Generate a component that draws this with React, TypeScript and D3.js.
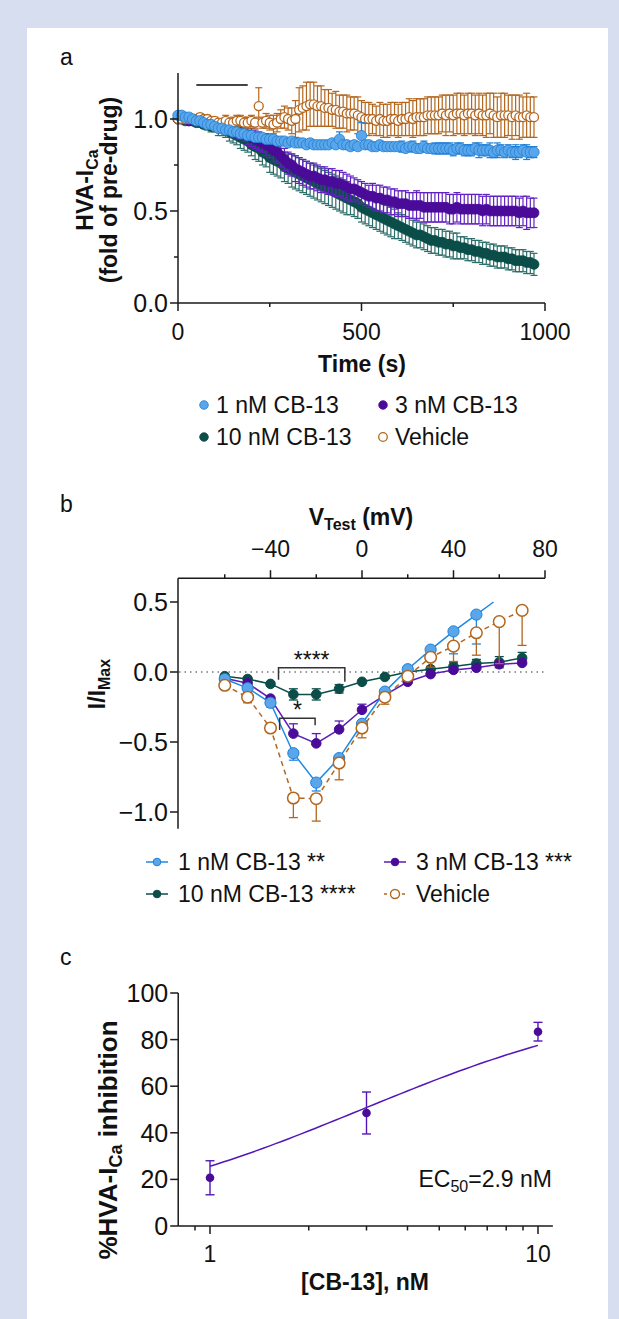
import React from "react";
import * as d3 from "d3";

const FONT = "'Liberation Sans', Arial, Helvetica, sans-serif";
const FS = 23;
const FS_Y = 25;
const FRAME = "#d6def0";
const AXIS = "#1a1a1a";
const BLUE = "#5aa6ea";
const BLUE_DK = "#1f7fd6";
const PURPLE = "#4a0c98";
const PURPLE_ERR = "#6222c2";
const TEAL = "#0b4d49";
const TEAL_ERR = "#2a6d69";
const ORANGE = "#b3661e";

// ---------- Panel a: HVA-ICa time course (sampled every 10 s) ----------
const sampleIntervalS = 10;
const drugBarA = [50, 190];

const blueA = [1.02,1.02,1.01,1.01,1.00,0.99,0.99,0.98,0.97,0.97,
 0.96,0.95,0.95,0.94,0.94,0.93,0.93,0.92,0.92,0.91,
 0.91,0.90,0.90,0.90,0.89,0.89,0.89,0.88,0.88,0.88,
 0.87,0.88,0.87,0.87,0.87,0.86,0.87,0.86,0.86,0.86,
 0.86,0.86,0.87,0.86,0.89,0.86,0.86,0.85,0.86,0.85,
 0.91,0.86,0.86,0.85,0.85,0.86,0.85,0.85,0.85,0.85,
 0.85,0.85,0.84,0.85,0.85,0.84,0.84,0.85,0.84,0.84,
 0.84,0.84,0.84,0.84,0.84,0.83,0.84,0.84,0.83,0.83,
 0.83,0.84,0.83,0.83,0.83,0.83,0.82,0.83,0.83,0.82,
 0.83,0.82,0.82,0.82,0.83,0.82,0.82,0.82];
const blueErrA = [0.01,0.01,0.01,0.01,0.01,0.01,0.01,0.01,0.01,0.01,
 0.01,0.01,0.01,0.01,0.01,0.02,0.02,0.02,0.02,0.02,
 0.02,0.02,0.02,0.02,0.02,0.02,0.02,0.02,0.02,0.02,
 0.02,0.02,0.02,0.02,0.02,0.02,0.02,0.02,0.02,0.02,
 0.02,0.02,0.02,0.02,0.04,0.02,0.02,0.02,0.02,0.02,
 0.07,0.02,0.02,0.02,0.02,0.02,0.02,0.02,0.02,0.02,
 0.02,0.03,0.02,0.02,0.03,0.02,0.02,0.03,0.02,0.02,
 0.03,0.03,0.03,0.03,0.03,0.03,0.03,0.03,0.03,0.03,
 0.03,0.03,0.04,0.03,0.03,0.04,0.03,0.04,0.03,0.03,
 0.03,0.03,0.04,0.03,0.03,0.04,0.03,0.03];

const purpleA = [1.00,1.00,1.00,0.99,0.99,0.99,0.99,0.98,0.98,0.98,
 0.97,0.97,0.96,0.96,0.95,0.94,0.93,0.93,0.92,0.91,
 0.90,0.89,0.88,0.87,0.86,0.85,0.83,0.82,0.80,0.78,
 0.76,0.75,0.73,0.72,0.71,0.70,0.69,0.69,0.68,0.67,
 0.67,0.66,0.66,0.65,0.65,0.64,0.63,0.62,0.62,0.61,
 0.60,0.59,0.58,0.58,0.57,0.57,0.56,0.56,0.55,0.55,
 0.54,0.54,0.54,0.53,0.53,0.53,0.53,0.52,0.52,0.52,
 0.52,0.52,0.52,0.52,0.51,0.51,0.52,0.51,0.51,0.51,
 0.51,0.51,0.51,0.50,0.51,0.50,0.50,0.50,0.50,0.50,
 0.50,0.50,0.50,0.49,0.50,0.49,0.49,0.49];
const purpleErrA = [0.00,0.00,0.01,0.01,0.01,0.01,0.01,0.02,0.02,0.02,
 0.02,0.03,0.03,0.03,0.03,0.04,0.04,0.04,0.04,0.05,
 0.05,0.05,0.05,0.05,0.06,0.06,0.06,0.06,0.06,0.06,
 0.06,0.06,0.07,0.07,0.07,0.07,0.07,0.07,0.07,0.07,
 0.07,0.07,0.07,0.07,0.07,0.07,0.07,0.07,0.06,0.06,
 0.06,0.06,0.06,0.07,0.07,0.07,0.07,0.07,0.07,0.07,
 0.07,0.07,0.07,0.07,0.07,0.08,0.07,0.08,0.08,0.08,
 0.08,0.08,0.08,0.08,0.08,0.08,0.08,0.08,0.08,0.08,
 0.08,0.08,0.08,0.08,0.08,0.08,0.08,0.08,0.08,0.08,
 0.08,0.08,0.08,0.08,0.08,0.09,0.08,0.08];

const tealA = [1.00,1.00,0.99,0.99,0.99,0.98,0.98,0.97,0.97,0.96,
 0.96,0.95,0.95,0.94,0.93,0.92,0.91,0.90,0.89,0.88,
 0.86,0.85,0.84,0.82,0.81,0.79,0.78,0.77,0.76,0.74,
 0.73,0.72,0.71,0.70,0.69,0.68,0.67,0.66,0.65,0.64,
 0.63,0.62,0.61,0.60,0.59,0.58,0.57,0.56,0.55,0.54,
 0.52,0.51,0.50,0.49,0.48,0.47,0.46,0.45,0.44,0.43,
 0.42,0.41,0.40,0.39,0.38,0.37,0.37,0.36,0.35,0.34,
 0.34,0.33,0.33,0.32,0.32,0.31,0.31,0.30,0.30,0.29,
 0.29,0.28,0.28,0.27,0.27,0.26,0.26,0.25,0.25,0.25,
 0.24,0.24,0.23,0.23,0.23,0.22,0.22,0.21];
const tealErrA = [0.00,0.01,0.01,0.01,0.01,0.02,0.02,0.02,0.03,0.03,
 0.03,0.04,0.04,0.04,0.05,0.05,0.05,0.06,0.06,0.06,
 0.06,0.07,0.07,0.07,0.07,0.08,0.08,0.08,0.08,0.08,
 0.08,0.09,0.09,0.09,0.09,0.09,0.09,0.09,0.09,0.09,
 0.09,0.09,0.09,0.09,0.09,0.09,0.09,0.08,0.08,0.08,
 0.08,0.08,0.08,0.08,0.08,0.08,0.08,0.08,0.08,0.08,
 0.07,0.07,0.07,0.07,0.07,0.07,0.07,0.07,0.07,0.07,
 0.07,0.07,0.07,0.07,0.07,0.07,0.07,0.06,0.06,0.06,
 0.06,0.06,0.06,0.06,0.06,0.06,0.06,0.06,0.06,0.06,
 0.06,0.06,0.06,0.06,0.06,0.06,0.06,0.06];

const vehA = [1.00,1.00,1.00,1.00,1.00,1.00,1.01,1.00,1.00,0.99,
 0.99,0.98,0.98,0.99,0.98,0.98,0.99,0.99,0.98,0.98,
 0.99,0.98,1.07,0.98,0.99,0.98,0.97,0.98,1.00,1.01,
 1.00,0.99,1.00,1.05,1.06,1.07,1.08,1.08,1.07,1.07,
 1.06,1.06,1.05,1.05,1.04,1.04,1.03,1.03,1.03,1.02,
 1.01,1.00,1.00,1.00,0.99,1.00,0.99,0.99,1.00,1.00,
 0.99,1.00,1.00,1.01,1.00,1.01,1.01,1.01,1.02,1.02,
 1.02,1.02,1.03,1.02,1.03,1.02,1.03,1.03,1.02,1.03,
 1.03,1.02,1.03,1.02,1.02,1.03,1.02,1.01,1.02,1.02,
 1.02,1.01,1.02,1.01,1.01,1.02,1.01,1.01];
const vehErrA = [0.01,0.01,0.01,0.01,0.01,0.01,0.02,0.02,0.02,0.02,
 0.02,0.02,0.02,0.03,0.02,0.03,0.03,0.03,0.03,0.03,
 0.03,0.03,0.10,0.03,0.04,0.04,0.05,0.05,0.05,0.06,
 0.06,0.07,0.10,0.12,0.12,0.13,0.12,0.12,0.11,0.11,
 0.10,0.10,0.09,0.10,0.09,0.09,0.10,0.09,0.09,0.10,
 0.09,0.09,0.09,0.08,0.08,0.09,0.09,0.09,0.09,0.09,
 0.09,0.09,0.09,0.10,0.10,0.10,0.10,0.10,0.10,0.10,
 0.10,0.10,0.10,0.11,0.10,0.11,0.11,0.11,0.11,0.11,
 0.11,0.11,0.11,0.11,0.12,0.11,0.12,0.11,0.12,0.12,
 0.11,0.12,0.11,0.12,0.11,0.12,0.11,0.11];

const yTicksA = [0, 0.5, 1.0];
const yMinorA = [0.25, 0.75];
const xTicksA = [0, 500, 1000];
const xMinorA = [250, 750];

// ---------- Panel b: I-V relation ----------
const vTestB = [-60, -50, -40, -30, -20, -10, 0, 10, 20, 30, 40, 50, 60, 70];
const blueB = [-0.05, -0.115, -0.22, -0.58, -0.79, -0.615, -0.37, -0.14, 0.02, 0.16, 0.29, 0.41];
const blueErrB = [0.02, 0.03, 0.03, 0.05, 0.06, 0.03, 0.03, 0.02, 0.02, 0.02, 0.16, 0.21];
const blueLineEndB = [57.5, 0.5];
const purpleB = [-0.045, -0.08, -0.19, -0.44, -0.51, -0.41, -0.27, -0.165, -0.07, -0.015, 0.015, 0.03, 0.055, 0.065];
const purpleErrB = [0.01, 0.01, 0.01, 0.07, 0.07, 0.06, 0.04, 0.02, 0.02, 0.01, 0.01, 0.01, 0.02, 0.02];
const tealB = [-0.03, -0.05, -0.085, -0.16, -0.16, -0.12, -0.07, -0.035, 0.0, 0.02, 0.04, 0.06, 0.07, 0.10];
const tealErrB = [0.01, 0.01, 0.01, 0.04, 0.04, 0.03, 0.01, 0.01, 0.02, 0.02, 0.03, 0.03, 0.04, 0.04];
const vehB = [-0.095, -0.18, -0.40, -0.90, -0.905, -0.65, -0.40, -0.18, -0.03, 0.105, 0.185, 0.28, 0.36, 0.44];
const vehErrB = [0.03, 0.04, 0.03, 0.14, 0.16, 0.12, 0.07, 0.05, 0.03, 0.07, 0.11, 0.16, 0.30, 0.25];
const xTicksB = [-40, 0, 40, 80];
const xMinorB = [-60, -20, 20, 60];
const yTicksB = [0.5, 0, -0.5, -1.0];
// significance brackets: [vStart, vEnd, iTop, iLegLeft, iLegRight, label]
const bracketsB: [number, number, number, number, number, string][] = [
  [-36.5, -7.5, 0.03, -0.055, -0.07, "****"],
  [-36, -20.5, -0.33, -0.415, -0.38, "*"],
];

// ---------- Panel c: concentration-response ----------
const concC = [1, 3, 10];
const inhibC = [20.7, 48.5, 83.4];
const semC = [7.3, 9.0, 4.0];
const ec50C = 2.9;
const hillC = 1;
const yTicksC = [0, 20, 40, 60, 80, 100];
const xTicksC = [1, 10];
const xMinorC = [0.9, 2, 3, 4, 5, 6, 7, 8, 9];

type Ser = { name: string; vals: number[]; errs: number[]; fill: string; stroke: string; err: string; r: number };

export default function App() {
  const W = 619, H = 1319;
  const fmt1 = d3.format(".1f");
  const fmtD = d3.format("d");

  const xA = d3.scaleLinear().domain([0, 1000]).range([178, 545]);
  const yA = d3.scaleLinear().domain([0, 1.25]).range([303, 73]);
  const tA = blueA.map((_, i) => i * sampleIntervalS);
  const seriesA: Ser[] = [
    { name: "10 nM CB-13", vals: tealA, errs: tealErrA, fill: TEAL, stroke: TEAL, err: TEAL_ERR, r: 5 },
    { name: "3 nM CB-13", vals: purpleA, errs: purpleErrA, fill: PURPLE, stroke: PURPLE, err: PURPLE_ERR, r: 5 },
    { name: "Vehicle", vals: vehA, errs: vehErrA, fill: "#fff", stroke: ORANGE, err: ORANGE, r: 4.5 },
    { name: "1 nM CB-13", vals: blueA, errs: blueErrA, fill: BLUE, stroke: BLUE_DK, err: BLUE_DK, r: 5.2 },
  ];

  const xB = d3.scaleLinear().domain([-80, 80]).range([179, 545]);
  const yB = d3.scaleLinear().domain([-1, 0.5]).range([812, 602]);
  const yBTop = 0.67, yBBot = -1.12;
  const lineB = d3.line<[number, number]>().x((d) => xB(d[0])).y((d) => yB(d[1]));
  const seriesB = [
    { name: "10 nM CB-13 ****", vals: tealB, errs: tealErrB, dir: "both", fill: TEAL, stroke: TEAL, line: TEAL, err: TEAL, r: 4.8, dash: "" },
    { name: "3 nM CB-13 ***", vals: purpleB, errs: purpleErrB, dir: "up", fill: PURPLE, stroke: PURPLE, line: "#5b1cb8", err: "#5b1cb8", r: 4.8, dash: "" },
    { name: "1 nM CB-13 **", vals: blueB, errs: blueErrB, dir: "down", fill: BLUE, stroke: BLUE_DK, line: "#1e88e5", err: "#1e88e5", r: 5.6, dash: "" },
    { name: "Vehicle", vals: vehB, errs: vehErrB, dir: "down", fill: "#fff", stroke: ORANGE, line: ORANGE, err: ORANGE, r: 5.8, dash: "5,4" },
  ];

  const xC = d3.scaleLog().domain([1, 10]).range([210, 538]);
  const yC = d3.scaleLinear().domain([0, 100]).range([1226, 993]);
  const fitPts: [number, number][] = d3.range(0, 1.0001, 0.02).map((e) => {
    const c = Math.pow(10, e);
    return [c, (100 * Math.pow(c, hillC)) / (Math.pow(c, hillC) + Math.pow(ec50C, hillC))];
  });
  const lineC = d3.line<[number, number]>().x((d) => xC(d[0])).y((d) => yC(d[1]));

  const txt = { fontFamily: FONT, fontSize: FS, fill: "#111" } as const;
  const ytxt = { fontFamily: FONT, fontSize: FS_Y, fill: "#111" } as const;
  const bold = { fontFamily: FONT, fontSize: FS, fontWeight: 700, fill: "#111" } as const;

  const errBar = (x: number, y0: number, y1: number, color: string, cap: number, key: string, sw = 1.3) => (
    <g key={key} stroke={color} strokeWidth={sw}>
      <line x1={x} x2={x} y1={y0} y2={y1} />
      <line x1={x - cap} x2={x + cap} y1={y1} y2={y1} />
    </g>
  );

  return (
    <svg width={W} height={H} style={{ position: "absolute", left: 0, top: 0 }} fontFamily={FONT}>
      <rect width={W} height={H} fill={FRAME} />
      <rect x={27} y={28} width={581} height={H - 28} fill="#fff" />

      {/* ================= Panel a ================= */}
      <text x={60} y={65} {...txt}>a</text>
      <line x1={xA(drugBarA[0])} x2={xA(drugBarA[1])} y1={85} y2={85} stroke="#444" strokeWidth={2} />
      {seriesA.map((s) => (
        <g key={s.name}>
          {s.vals.map((v, i) => (
            <g key={i} stroke={s.err} strokeWidth={1.2}>
              <line x1={xA(tA[i])} x2={xA(tA[i])} y1={yA(v - s.errs[i])} y2={yA(v + s.errs[i])} />
              <line x1={xA(tA[i]) - 3.5} x2={xA(tA[i]) + 3.5} y1={yA(v + s.errs[i])} y2={yA(v + s.errs[i])} />
              <line x1={xA(tA[i]) - 3.5} x2={xA(tA[i]) + 3.5} y1={yA(v - s.errs[i])} y2={yA(v - s.errs[i])} />
            </g>
          ))}
          {s.vals.map((v, i) => (
            <circle key={"m" + i} cx={xA(tA[i])} cy={yA(v)} r={s.r} fill={s.fill} stroke={s.stroke} strokeWidth={s.fill === "#fff" ? 1.3 : 0.8} />
          ))}
        </g>
      ))}
      <g stroke={AXIS} strokeWidth={1.5}>
        <line x1={xA(0)} x2={xA(0)} y1={yA(1.25)} y2={yA(0)} />
        <line x1={xA(0)} x2={xA(1000)} y1={yA(0)} y2={yA(0)} />
        {yTicksA.map((t) => <line key={t} x1={xA(0) - 8} x2={xA(0)} y1={yA(t)} y2={yA(t)} />)}
        {yMinorA.map((t) => <line key={t} x1={xA(0) - 4} x2={xA(0)} y1={yA(t)} y2={yA(t)} />)}
        {xTicksA.map((t) => <line key={t} x1={xA(t)} x2={xA(t)} y1={yA(0)} y2={yA(0) + 8} />)}
        {xMinorA.map((t) => <line key={t} x1={xA(t)} x2={xA(t)} y1={yA(0)} y2={yA(0) + 4} />)}
      </g>
      {yTicksA.map((t) => (
        <text key={t} x={xA(0) - 10} y={yA(t) + 9} textAnchor="end" {...ytxt}>{fmt1(t)}</text>
      ))}
      {xTicksA.map((t) => (
        <text key={t} x={xA(t)} y={340} textAnchor="middle" {...txt}>{fmtD(t)}</text>
      ))}
      <text x={362} y={372} textAnchor="middle" {...bold}>Time (s)</text>
      <text transform="translate(93,190) rotate(-90)" textAnchor="middle" {...bold}>
        HVA-I<tspan dy={5} fontSize={16}>Ca</tspan>
      </text>
      <text transform="translate(117,190) rotate(-90)" textAnchor="middle" {...bold}>(fold of pre-drug)</text>
      {[
        { s: seriesA[3], x: 204, y: 405 },
        { s: seriesA[1], x: 383, y: 405 },
        { s: seriesA[0], x: 204, y: 437 },
        { s: seriesA[2], x: 383, y: 437 },
      ].map(({ s, x, y }) => (
        <g key={s.name}>
          <circle cx={x} cy={y} r={4.3} fill={s.fill} stroke={s.stroke} strokeWidth={s.fill === "#fff" ? 1.3 : 0.8} />
          <text x={x + 12} y={y + 8} {...txt}>{s.name}</text>
        </g>
      ))}

      {/* ================= Panel b ================= */}
      <text x={60} y={512} {...txt}>b</text>
      <text x={361} y={525} textAnchor="middle" {...bold}>
        V<tspan dy={5} fontSize={16}>Test</tspan><tspan dy={-5}> (mV)</tspan>
      </text>
      <line x1={xB(-80)} x2={xB(80)} y1={yB(0)} y2={yB(0)} stroke="#777" strokeWidth={1.3} strokeDasharray="1.5,4" />
      <g stroke={AXIS} strokeWidth={1.5}>
        <line x1={xB(-80) - 1} x2={xB(80)} y1={yB(yBTop)} y2={yB(yBTop)} />
        <line x1={xB(-80) - 1} x2={xB(-80) - 1} y1={yB(yBTop)} y2={yB(yBBot)} />
        {xTicksB.map((t) => <line key={t} x1={xB(t)} x2={xB(t)} y1={yB(yBTop)} y2={yB(yBTop) - 8} />)}
        {xMinorB.map((t) => <line key={t} x1={xB(t)} x2={xB(t)} y1={yB(yBTop)} y2={yB(yBTop) - 4} />)}
        {yTicksB.map((t) => <line key={t} x1={xB(-80) - 9} x2={xB(-80) - 1} y1={yB(t)} y2={yB(t)} />)}
      </g>
      {xTicksB.map((t) => (
        <text key={t} x={xB(t)} y={557} textAnchor="middle" {...txt}>{fmtD(t)}</text>
      ))}
      {yTicksB.map((t) => (
        <text key={t} x={xB(-80) - 11} y={yB(t) + 9} textAnchor="end" {...ytxt}>{fmt1(t)}</text>
      ))}
      <text transform="translate(105,684) rotate(-90)" textAnchor="middle" {...bold}>
        I/I<tspan dy={5} fontSize={16}>Max</tspan>
      </text>
      {seriesB.map((s) => {
        const pts: [number, number][] = s.vals.map((v, i) => [vTestB[i], v]);
        const linePts = s.name.startsWith("1 nM") ? [...pts, blueLineEndB as [number, number]] : pts;
        return (
          <g key={s.name}>
            <path d={lineB(linePts) || ""} fill="none" stroke={s.line} strokeWidth={1.5} strokeDasharray={s.dash} />
            {pts.map(([v, val], i) => {
              const e = s.errs[i];
              const x = xB(v);
              const parts = [];
              if (s.dir === "up" || s.dir === "both") parts.push(errBar(x, yB(val), yB(val + e), s.err, 4.5, "u" + i));
              if (s.dir === "down" || s.dir === "both") parts.push(errBar(x, yB(val), yB(val - e), s.err, 4.5, "d" + i));
              return <g key={i}>{parts}</g>;
            })}
            {pts.map(([v, val], i) => (
              <circle key={"m" + i} cx={xB(v)} cy={yB(val)} r={s.r} fill={s.fill} stroke={s.stroke} strokeWidth={s.fill === "#fff" ? 1.5 : 1} />
            ))}
          </g>
        );
      })}
      {bracketsB.map(([a, b, top, l, r, lab]) => (
        <g key={lab}>
          <path d={`M${xB(a)},${yB(l)}V${yB(top)}H${xB(b)}V${yB(r)}`} fill="none" stroke="#333" strokeWidth={1.5} />
          <text x={(xB(a) + xB(b)) / 2} y={yB(top)} textAnchor="middle" {...txt}>{lab}</text>
        </g>
      ))}
      {[
        { s: seriesB[2], x: 157, y: 862 },
        { s: seriesB[1], x: 395, y: 862 },
        { s: seriesB[0], x: 157, y: 894 },
        { s: seriesB[3], x: 395, y: 894 },
      ].map(({ s, x, y }) => (
        <g key={s.name}>
          <line x1={x - 11} x2={x + 11} y1={y} y2={y} stroke={s.line} strokeWidth={1.5} strokeDasharray={s.dash ? "3,3" : ""} />
          <circle cx={x} cy={y} r={s.fill === "#fff" ? 4.5 : 3.8} fill={s.fill} stroke={s.stroke} strokeWidth={s.fill === "#fff" ? 1.4 : 1} />
          <text x={x + 21} y={y + 8} {...txt}>{s.name}</text>
        </g>
      ))}

      {/* ================= Panel c ================= */}
      <text x={60} y={965} {...txt}>c</text>
      <path d={lineC(fitPts) || ""} fill="none" stroke="#5316b8" strokeWidth={1.5} />
      {concC.map((c, i) => (
        <g key={c} stroke="#5316b8" strokeWidth={1.4}>
          <line x1={xC(c)} x2={xC(c)} y1={yC(inhibC[i] - semC[i])} y2={yC(inhibC[i] + semC[i])} />
          <line x1={xC(c) - 4.5} x2={xC(c) + 4.5} y1={yC(inhibC[i] + semC[i])} y2={yC(inhibC[i] + semC[i])} />
          <line x1={xC(c) - 4.5} x2={xC(c) + 4.5} y1={yC(inhibC[i] - semC[i])} y2={yC(inhibC[i] - semC[i])} />
        </g>
      ))}
      {concC.map((c, i) => (
        <circle key={"m" + c} cx={xC(c)} cy={yC(inhibC[i])} r={4.3} fill={PURPLE} />
      ))}
      <g stroke={AXIS} strokeWidth={1.5}>
        <line x1={xC(0.8)} x2={xC(0.8)} y1={yC(100)} y2={yC(0)} />
        <line x1={xC(0.8)} x2={xC(11.1)} y1={yC(0)} y2={yC(0)} />
        {yTicksC.map((t) => <line key={t} x1={xC(0.8) - 8} x2={xC(0.8)} y1={yC(t)} y2={yC(t)} />)}
        {xTicksC.map((t) => <line key={t} x1={xC(t)} x2={xC(t)} y1={yC(0)} y2={yC(0) + 8} />)}
        {xMinorC.map((t) => <line key={t} x1={xC(t)} x2={xC(t)} y1={yC(0)} y2={yC(0) + 4.5} />)}
      </g>
      {yTicksC.map((t) => (
        <text key={t} x={xC(0.8) - 10} y={yC(t) + 9} textAnchor="end" {...ytxt}>{fmtD(t)}</text>
      ))}
      {xTicksC.map((t) => (
        <text key={t} x={xC(t)} y={1262} textAnchor="middle" {...txt}>{fmtD(t)}</text>
      ))}
      <text x={365} y={1290} textAnchor="middle" {...bold}>[CB-13], nM</text>
      <text transform="translate(117,1140) rotate(-90)" textAnchor="middle" {...bold} fontSize={26}>
        %HVA-I<tspan dy={5} fontSize={18}>Ca</tspan><tspan dy={-5}> inhibition</tspan>
      </text>
      <text x={552} y={1187} textAnchor="end" {...txt}>
        EC<tspan dy={5} fontSize={16}>50</tspan><tspan dy={-5}>=2.9 nM</tspan>
      </text>
    </svg>
  );
}
